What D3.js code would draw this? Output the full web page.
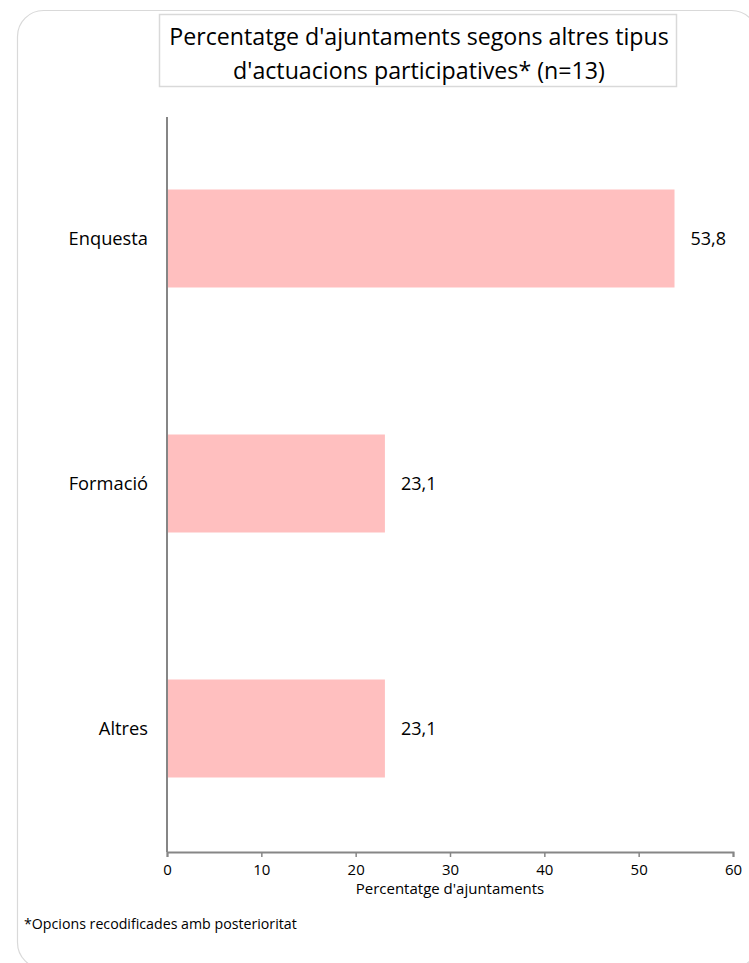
<!DOCTYPE html>
<html>
<head>
<meta charset="utf-8">
<script src="https://cdn.jsdelivr.net/npm/d3@7"></script>
<style>
  html, body { margin: 0; padding: 0; background: #fff; }
  svg { display: block; }
  text { font-family: "Open Sans", sans-serif; fill: #000; }
</style>
</head>
<body>
<svg id="chart" width="749" height="963"></svg>
<script>
const categories = ["Enquesta", "Formació", "Altres"];
const values = [53.8, 23.1, 23.1];
const valueLabels = ["53,8", "23,1", "23,1"];
const xTicks = [0, 10, 20, 30, 40, 50, 60];
const titleLines = ["Percentatge d'ajuntaments segons altres tipus", "d'actuacions participatives* (n=13)"];
const xAxisTitle = "Percentatge d'ajuntaments";
const footnote = "*Opcions recodificades amb posterioritat";

const svg = d3.select("#chart");
const FONT = "'Open Sans', sans-serif";

// outer rounded frame
svg.append("rect")
  .attr("x", 17.5).attr("y", 10.5)
  .attr("width", 740).attr("height", 958)
  .attr("rx", 26).attr("ry", 26)
  .attr("fill", "#fff").attr("stroke", "#d9d9d9").attr("stroke-width", 1.2);

// title box
svg.append("rect")
  .attr("x", 159.5).attr("y", 14.5)
  .attr("width", 517).attr("height", 72)
  .attr("fill", "#fff").attr("stroke", "#d9d9d9").attr("stroke-width", 1.5);

svg.append("g").selectAll("text").data(titleLines).join("text")
  .attr("x", 419).attr("y", (d, i) => 37 + i * 34)
  .attr("dy", "0.35em")
  .attr("text-anchor", "middle")
  .style("font-size", "23.2px")
  .text(d => d);

const margin = { left: 167, right: 733, top: 117, bottom: 852 };

const x = d3.scaleLinear().domain([0, 60]).range([margin.left, margin.right]);
const y = d3.scaleBand().domain(categories).range([margin.top, margin.bottom]).paddingInner(0.6).paddingOuter(0.3);

// bars
svg.append("g").selectAll("rect").data(categories).join("rect")
  .attr("x", x(0))
  .attr("y", d => y(d) - 1)
  .attr("width", (d, i) => x(values[i]) - x(0))
  .attr("height", y.bandwidth())
  .attr("fill", "#ffbfbf");

// value labels
svg.append("g").selectAll("text").data(categories).join("text")
  .attr("x", (d, i) => x(values[i]) + 16)
  .attr("y", d => y(d) + y.bandwidth() / 2 - 1)
  .attr("dy", "0.35em")
  .style("font-size", "18px")
  .text((d, i) => valueLabels[i]);

// category labels
svg.append("g").selectAll("text").data(categories).join("text")
  .attr("x", 148)
  .attr("y", d => y(d) + y.bandwidth() / 2 - 1)
  .attr("dy", "0.35em")
  .attr("text-anchor", "end")
  .style("font-size", "18.3px")
  .text(d => d);

// y axis line
svg.append("line")
  .attr("x1", x(0)).attr("x2", x(0))
  .attr("y1", margin.top).attr("y2", margin.bottom)
  .attr("stroke", "#868686").attr("stroke-width", 2);

// x axis
const xAxis = d3.axisBottom(x).tickValues(xTicks).tickSize(5).tickSizeOuter(5).tickPadding(7).tickFormat(d3.format("d"));
const gx = svg.append("g").attr("transform", `translate(0,${margin.bottom})`).call(xAxis);
gx.select(".domain").attr("stroke", "#868686").attr("stroke-width", 2);
gx.selectAll(".tick line").attr("stroke", "#868686").attr("stroke-width", 1.5);
gx.selectAll(".tick text").style("font-family", FONT).style("font-size", "15px").attr("fill", "#000");

svg.append("text")
  .attr("x", 450).attr("y", 889)
  .attr("dy", "0.35em")
  .attr("text-anchor", "middle")
  .style("font-size", "15px")
  .text(xAxisTitle);

svg.append("text")
  .attr("x", 24).attr("y", 924)
  .attr("dy", "0.35em")
  .style("font-size", "14.2px")
  .text(footnote);
</script>
</body>
</html>
